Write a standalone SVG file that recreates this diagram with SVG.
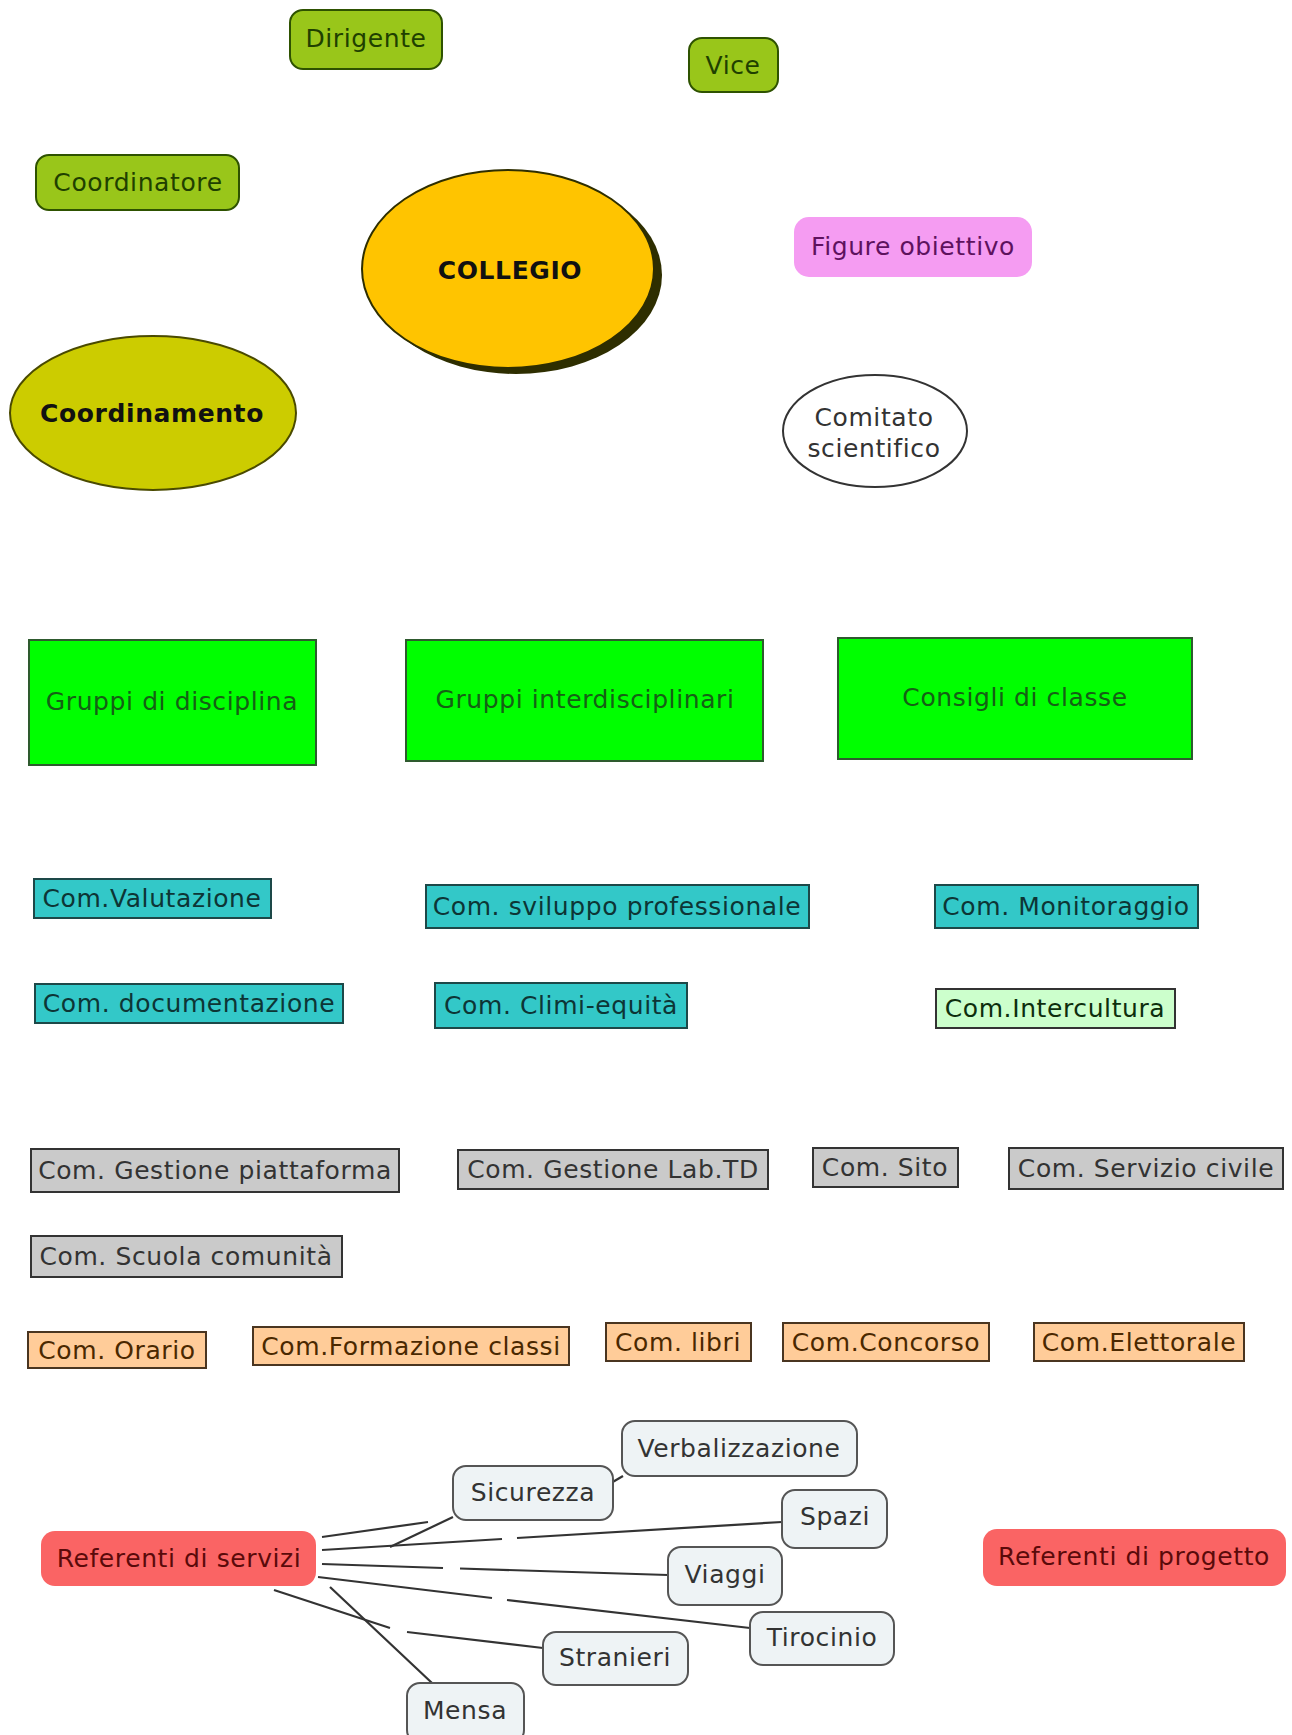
<svg xmlns="http://www.w3.org/2000/svg" width="1292" height="1735" viewBox="0 0 1292 1735">
<style>
text{font-family:"DejaVu Sans",Verdana,sans-serif;font-size:25px;letter-spacing:0.6px;text-anchor:middle;dominant-baseline:central}
.lime rect{fill:#99c61a;stroke:#2e5200;stroke-width:2}
.lime text{fill:#1f4000}
.grn rect{fill:#00ff00;stroke:#2e5a2e;stroke-width:2}
.grn text{fill:#156015}
.teal rect{fill:#33c8c8;stroke:#1d4848;stroke-width:2}
.teal text{fill:#0d3535}
.gray rect{fill:#cacaca;stroke:#333;stroke-width:2}
.gray text{fill:#333}
.org rect{fill:#ffcc99;stroke:#4a3520;stroke-width:2}
.org text{fill:#4a2800}
.red rect{fill:#fa6464}
.red text{fill:#5a0a0a}
.lt rect{fill:#eef3f5;stroke:#555;stroke-width:2}
.lt text{fill:#333}
.bold{font-weight:bold;fill:#111}
#connectors line{stroke:#333;stroke-width:2.2;fill:none}
</style>

<g id="dirigente" class="lime"><rect x="290" y="10" width="152" height="59" rx="13"/><text x="366" y="38">Dirigente</text></g>
<g id="vice" class="lime"><rect x="689" y="38" width="89" height="54" rx="13"/><text x="733" y="65">Vice</text></g>
<g id="coordinatore" class="lime"><rect x="36" y="155" width="203" height="55" rx="13"/><text x="138" y="182">Coordinatore</text></g>

<g id="collegio">
<ellipse cx="516" cy="275" rx="146" ry="99" fill="#2e2e00"/>
<ellipse cx="508" cy="269" rx="146" ry="99" fill="#ffc400" stroke="#2e2e00" stroke-width="2"/>
<text x="510" y="270" class="bold">COLLEGIO</text>
</g>

<g id="figure-obiettivo"><rect x="794" y="217" width="238" height="60" rx="15" fill="#f59cf2"/><text x="913" y="246" fill="#5e125e">Figure obiettivo</text></g>

<g id="coordinamento"><ellipse cx="153" cy="413" rx="143" ry="77" fill="#cccc00" stroke="#4a4a00" stroke-width="2"/><text x="152" y="413" class="bold">Coordinamento</text></g>

<g id="comitato"><ellipse cx="875" cy="431" rx="92" ry="56" fill="#fff" stroke="#333" stroke-width="2"/><text x="874" y="417" fill="#333">Comitato</text><text x="874" y="448" fill="#333">scientifico</text></g>

<g id="gruppi-disciplina" class="grn"><rect x="29" y="640" width="287" height="125"/><text x="172" y="701">Gruppi di disciplina</text></g>
<g id="gruppi-interdisciplinari" class="grn"><rect x="406" y="640" width="357" height="121"/><text x="585" y="699">Gruppi interdisciplinari</text></g>
<g id="consigli-classe" class="grn"><rect x="838" y="638" width="354" height="121"/><text x="1015" y="697">Consigli di classe</text></g>

<g id="com-valutazione" class="teal"><rect x="34" y="879" width="237" height="39"/><text x="152" y="898">Com.Valutazione</text></g>
<g id="com-sviluppo" class="teal"><rect x="426" y="885" width="383" height="43"/><text x="617" y="906">Com. sviluppo professionale</text></g>
<g id="com-monitoraggio" class="teal"><rect x="935" y="885" width="263" height="43"/><text x="1066" y="906">Com. Monitoraggio</text></g>
<g id="com-documentazione" class="teal"><rect x="35" y="984" width="308" height="39"/><text x="189" y="1003">Com. documentazione</text></g>
<g id="com-climi" class="teal"><rect x="435" y="983" width="252" height="45"/><text x="561" y="1005">Com. Climi-equità</text></g>
<g id="com-intercultura"><rect x="936" y="989" width="239" height="39" fill="#ccffcc" stroke="#333" stroke-width="2"/><text x="1055" y="1008" fill="#0d2e0d">Com.Intercultura</text></g>

<g id="com-piattaforma" class="gray"><rect x="31" y="1149" width="368" height="43"/><text x="215" y="1170">Com. Gestione piattaforma</text></g>
<g id="com-labtd" class="gray"><rect x="458" y="1150" width="310" height="39"/><text x="613" y="1169">Com. Gestione Lab.TD</text></g>
<g id="com-sito" class="gray"><rect x="813" y="1148" width="145" height="39"/><text x="885" y="1167">Com. Sito</text></g>
<g id="com-servizio-civile" class="gray"><rect x="1009" y="1148" width="274" height="41"/><text x="1146" y="1168">Com. Servizio civile</text></g>
<g id="com-scuola-comunita" class="gray"><rect x="31" y="1236" width="311" height="41"/><text x="186" y="1256">Com. Scuola comunità</text></g>

<g id="com-orario" class="org"><rect x="28" y="1332" width="178" height="36"/><text x="117" y="1350">Com. Orario</text></g>
<g id="com-formazione" class="org"><rect x="253" y="1327" width="316" height="38"/><text x="411" y="1346">Com.Formazione classi</text></g>
<g id="com-libri" class="org"><rect x="606" y="1323" width="145" height="38"/><text x="678" y="1342">Com. libri</text></g>
<g id="com-concorso" class="org"><rect x="783" y="1323" width="206" height="38"/><text x="886" y="1342">Com.Concorso</text></g>
<g id="com-elettorale" class="org"><rect x="1034" y="1323" width="210" height="38"/><text x="1139" y="1342">Com.Elettorale</text></g>

<g id="connectors">
<line x1="322" y1="1537" x2="428" y2="1522"/>
<line x1="390" y1="1547" x2="453" y2="1517"/>
<line x1="322" y1="1550" x2="502" y2="1539"/>
<line x1="517" y1="1538" x2="782" y2="1522"/>
<line x1="322" y1="1564" x2="443" y2="1568"/>
<line x1="460" y1="1568.5" x2="668" y2="1575"/>
<line x1="318" y1="1577" x2="492" y2="1598"/>
<line x1="507" y1="1600" x2="750" y2="1628"/>
<line x1="274" y1="1590" x2="390" y2="1628"/>
<line x1="407" y1="1632" x2="543" y2="1648"/>
<line x1="330" y1="1587" x2="432" y2="1683"/>
<line x1="611" y1="1483" x2="623" y2="1476"/>
</g>

<g id="referenti-servizi" class="red"><rect x="41" y="1531" width="275" height="55" rx="14"/><text x="179" y="1558">Referenti di servizi</text></g>
<g id="referenti-progetto" class="red"><rect x="983" y="1529" width="303" height="57" rx="14"/><text x="1134" y="1556">Referenti di progetto</text></g>

<g id="verbalizzazione" class="lt"><rect x="622" y="1421" width="235" height="55" rx="13"/><text x="739" y="1448">Verbalizzazione</text></g>
<g id="sicurezza" class="lt"><rect x="453" y="1466" width="160" height="54" rx="13"/><text x="533" y="1492">Sicurezza</text></g>
<g id="spazi" class="lt"><rect x="782" y="1490" width="105" height="58" rx="13"/><text x="835" y="1516">Spazi</text></g>
<g id="viaggi" class="lt"><rect x="668" y="1547" width="114" height="58" rx="13"/><text x="725" y="1574">Viaggi</text></g>
<g id="tirocinio" class="lt"><rect x="750" y="1612" width="144" height="53" rx="13"/><text x="822" y="1637">Tirocinio</text></g>
<g id="stranieri" class="lt"><rect x="543" y="1632" width="145" height="53" rx="13"/><text x="615" y="1657">Stranieri</text></g>
<g id="mensa" class="lt"><rect x="407" y="1683" width="117" height="60" rx="13"/><text x="465" y="1710">Mensa</text></g>
</svg>
